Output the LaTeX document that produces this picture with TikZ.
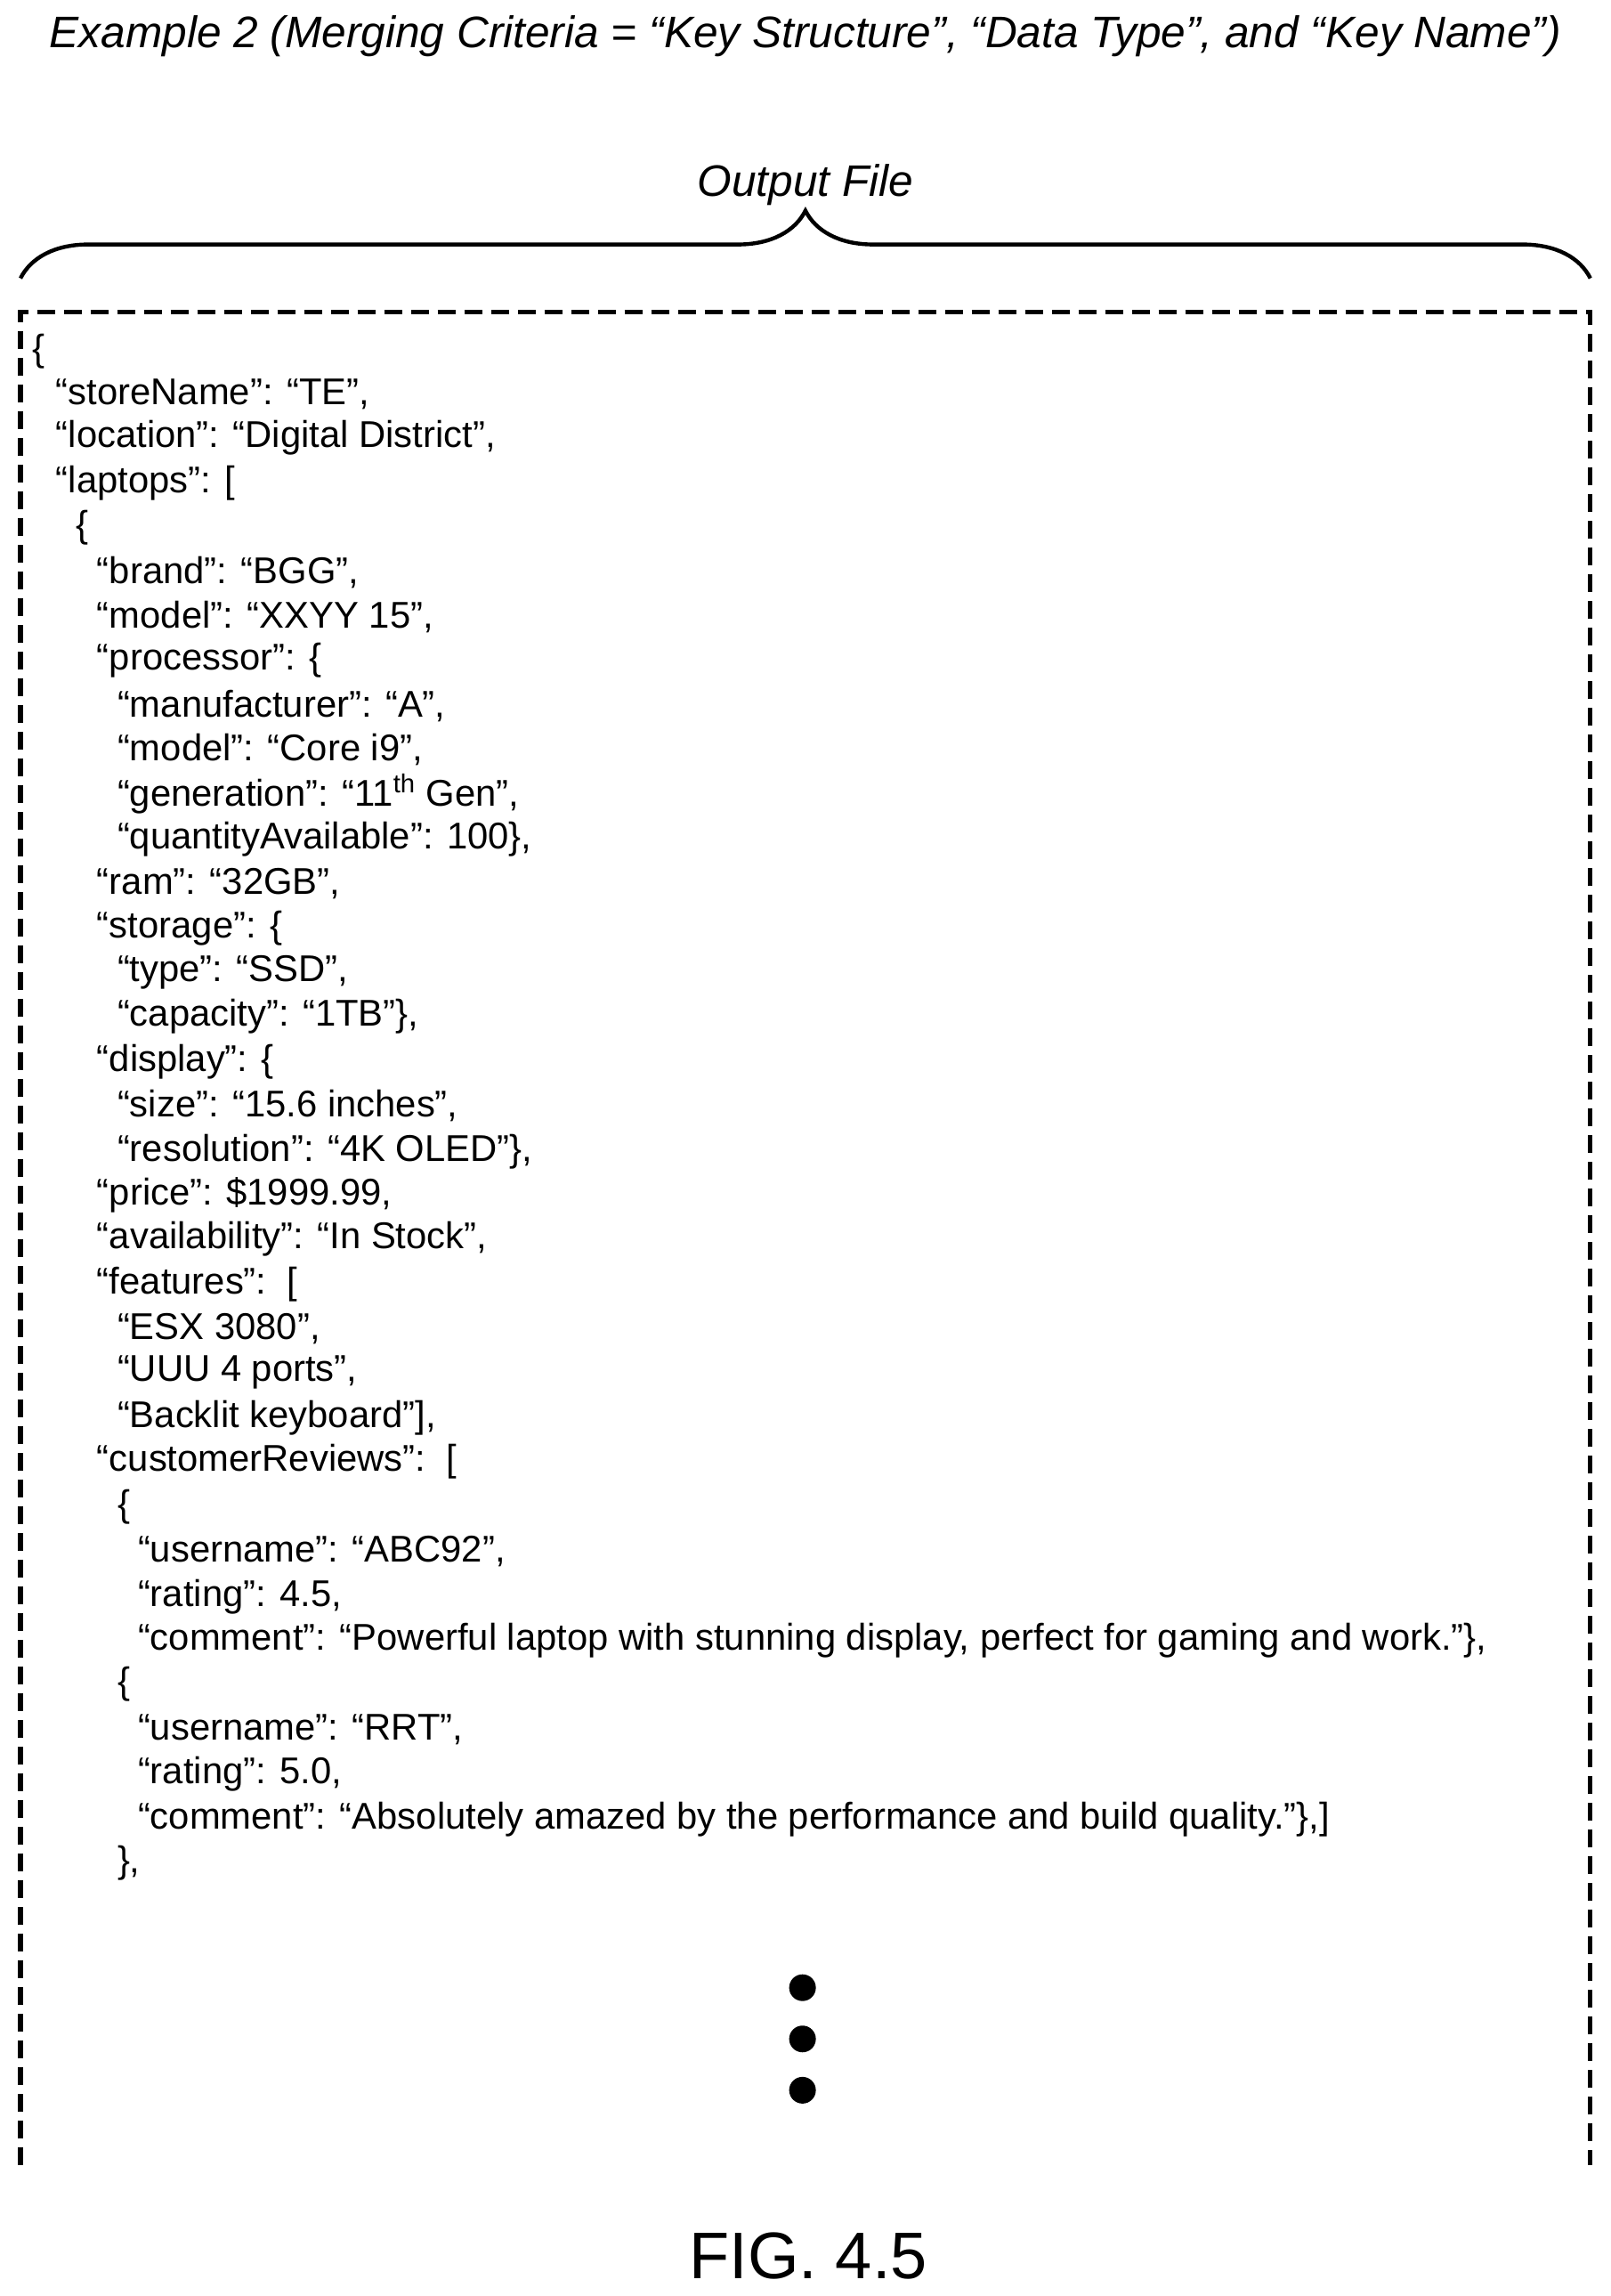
\documentclass[tikz,border=0pt]{standalone}
\usepackage{fontspec}
\setmainfont{Liberation Sans}
\usetikzlibrary{decorations.pathreplacing}
\begin{document}
\begin{tikzpicture}[x=0.8227pt,y=-0.8227pt,
  ln/.style={anchor=west,inner sep=0pt,font=\fontsize{20.9}{24}\selectfont},
  ttl/.style={inner sep=0pt,font=\fontsize{24.8}{28}\selectfont\itshape},
  frame/.style={line width=2.6pt,dash pattern=on 10pt off 5pt},
  dotn/.style={circle,fill=black,inner sep=0pt,minimum size=15pt}]
\useasboundingbox (0,0) rectangle (1100,1567.5);
\node[ttl] (title) at (550,25) {Example 2 (Merging Criteria = “Key Structure”, “Data Type”, and “Key Name”)};
\node[ttl] (out) at (550,126) {Output File};
\coordinate (bl) at (14,190);
\coordinate (br) at (1086,190);
\draw[line width=2.2pt,decorate,decoration={brace,amplitude=38pt,raise=0pt}] (bl) -- (br);
\coordinate (a) at (14,1478); \coordinate (b) at (14,213);
\coordinate (c) at (1086,213); \coordinate (d) at (1086,1478);
\draw[frame] (a) -- (b) -- (c) -- (d);
\def\La{38}\def\Lb{52}\def\Lc{66}\def\Ld{80}\def\Le{94}
\node[ln] (t0) at (22,240) {\{};
\node[ln] (t1) at (\La,269) {“storeName”: “TE”,};
\node[ln] (t2) at (\La,299) {“location”: “Digital District”,};
\node[ln] (t3) at (\La,330) {“laptops”: [};
\node[ln] (t4) at (\Lb,360) {\{};
\node[ln] (t5) at (\Lc,391) {“brand”: “BGG”,};
\node[ln] (t6) at (\Lc,421) {“model”: “XXYY 15”,};
\node[ln] (t7) at (\Lc,451) {“processor”: \{};
\node[ln] (t8) at (\Ld,482) {“manufacturer”: “A”,};
\node[ln] (t9) at (\Ld,512) {“model”: “Core i9”,};
\node[ln] (t10) at (\Ld,542) {“generation”: “11\textsuperscript{th} Gen”,};
\node[ln] (t11) at (\Ld,573) {“quantityAvailable”: 100\},};
\node[ln] (t12) at (\Lc,603) {“ram”: “32GB”,};
\node[ln] (t13) at (\Lc,634) {“storage”: \{};
\node[ln] (t14) at (\Ld,664) {“type”: “SSD”,};
\node[ln] (t15) at (\Ld,694) {“capacity”: “1TB”\},};
\node[ln] (t16) at (\Lc,725) {“display”: \{};
\node[ln] (t17) at (\Ld,755) {“size”: “15.6 inches”,};
\node[ln] (t18) at (\Ld,786) {“resolution”: “4K OLED”\},};
\node[ln] (t19) at (\Lc,816) {“price”: \$1999.99,};
\node[ln] (t20) at (\Lc,846) {“availability”: “In Stock”,};
\node[ln] (t21) at (\Lc,877) {“features”:\ \ [};
\node[ln] (t22) at (\Ld,907) {“ESX 3080”,};
\node[ln] (t23) at (\Ld,937) {“UUU 4 ports”,};
\node[ln] (t24) at (\Ld,968) {“Backlit keyboard”],};
\node[ln] (t25) at (\Lc,998) {“customerReviews”:\ \ [};
\node[ln] (t26) at (\Ld,1029) {\{};
\node[ln] (t27) at (\Le,1059) {“username”: “ABC92”,};
\node[ln] (t28) at (\Le,1090) {“rating”: 4.5,};
\node[ln] (t29) at (\Le,1120) {“comment”: “Powerful laptop with stunning display, perfect for gaming and work.”\},};
\node[ln] (t30) at (\Ld,1150) {\{};
\node[ln] (t31) at (\Le,1181) {“username”: “RRT”,};
\node[ln] (t32) at (\Le,1211) {“rating”: 5.0,};
\node[ln] (t33) at (\Le,1242) {“comment”: “Absolutely amazed by the performance and build quality.”\},]};
\node[ln] (t34) at (\Ld,1272) {\},};
\node[dotn] (d1) at (548,1357) {};
\node[dotn] (d2) at (548,1392) {};
\node[dotn] (d3) at (548,1427) {};
\node[inner sep=0pt,font=\fontsize{37}{41}\selectfont] (fig) at (552,1540) {FIG. 4.5};
\end{tikzpicture}
\end{document}
